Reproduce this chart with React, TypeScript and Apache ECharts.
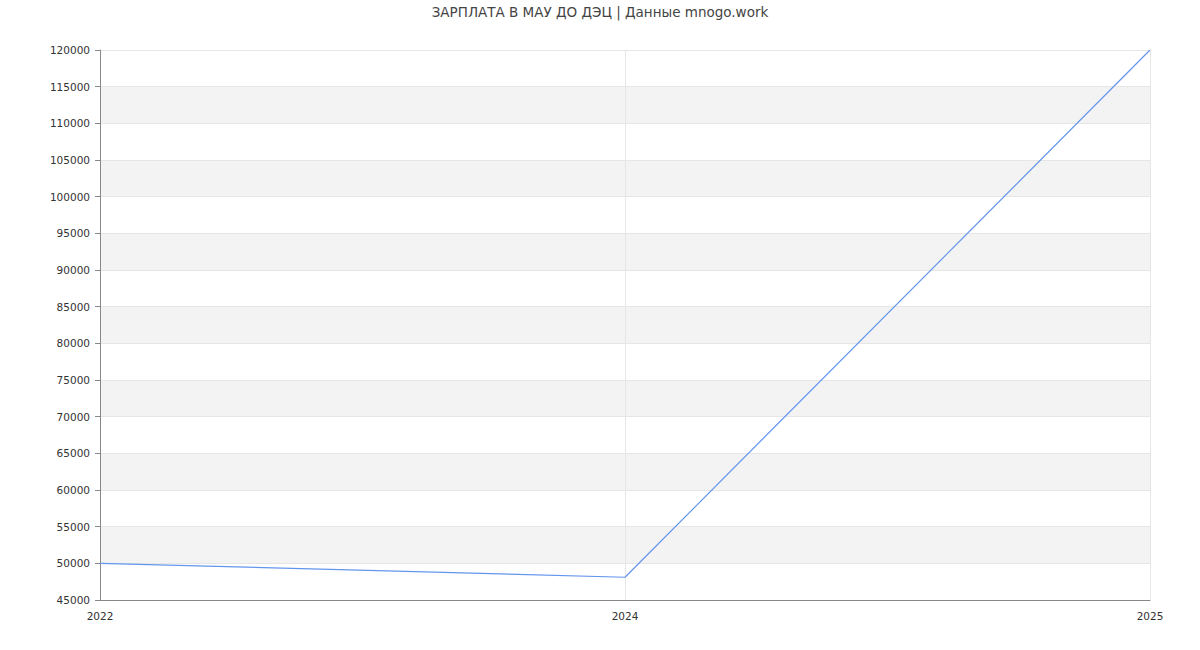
import React, { useEffect, useRef } from "react";
import * as echarts from "echarts";

const titleText = "ЗАРПЛАТА В МАУ ДО ДЭЦ | Данные mnogo.work";
const years = ["2022", "2024", "2025"];
const salaries = [50000, 48100, 120000];
const yMin = 45000;
const yMax = 120000;
const yStep = 5000;

export default function App() {
  const ref = useRef<HTMLDivElement>(null);
  useEffect(() => {
    if (!ref.current) return;
    const chart = echarts.init(ref.current, null, { renderer: "svg" });
    chart.setOption({
      animation: false,
      textStyle: { fontFamily: "DejaVu Sans" },
      title: {
        text: titleText,
        left: "center",
        top: 0,
        textStyle: { fontSize: 13.5, fontWeight: "normal", color: "#444", fontFamily: "DejaVu Sans" },
      },
      grid: { left: 100, right: 50, top: 50, bottom: 50, containLabel: false },
      xAxis: {
        type: "category",
        data: years,
        boundaryGap: false,
        axisLine: { lineStyle: { color: "#888" } },
        axisTick: { show: false },
        axisLabel: { color: "#333", fontSize: 10.5, margin: 10 },
        splitLine: { show: true, lineStyle: { color: "#e6e6e6" } },
      },
      yAxis: {
        type: "value",
        min: yMin,
        max: yMax,
        interval: yStep,
        axisLine: { show: true, lineStyle: { color: "#888" } },
        axisTick: { show: true, length: 5, lineStyle: { color: "#888" } },
        axisLabel: { color: "#333", fontSize: 10.5, margin: 10, formatter: (v: number) => String(v) },
        splitLine: { show: true, lineStyle: { color: "#e6e6e6" } },
        splitArea: { show: true, areaStyle: { color: ["#ffffff", "#f3f3f3"] } },
      },
      series: [
        {
          type: "line",
          data: salaries,
          showSymbol: false,
          symbol: "none",
          lineStyle: { color: "#6495ED", width: 1.2 },
          itemStyle: { color: "#6495ED" },
        },
      ],
    });
    return () => chart.dispose();
  }, []);
  return <div ref={ref} style={{ width: 1200, height: 650, position: "absolute", left: 0, top: 0 }} />;
}
